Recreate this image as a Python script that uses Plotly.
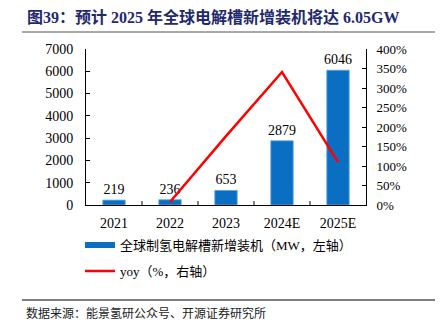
import plotly.graph_objects as go

years = ["2021", "2022", "2023", "2024E", "2025E"]
capacity = [219, 236, 653, 2879, 6046]
yoy_years = ["2022", "2023", "2024E", "2025E"]
yoy = [7.8, 176.7, 340.9, 110.0]
bar_name = "全球制氢电解槽新增装机（MW，左轴）"
line_name = "yoy（%，右轴）"

blue = "#0a6fc2"
red = "#ff0000"
serif = "Liberation Serif, Times New Roman, Noto Sans CJK SC"
cjk = "Liberation Serif, Noto Sans CJK SC"

L, R, T, B = 86, 366, 49, 205
W, H = R - L, B - T


def px(x):
    return (x - L) / W


def py(y):
    return (B - y) / H


fig = go.Figure()
fig.add_trace(go.Bar(x=years, y=capacity, marker=dict(color=blue, line=dict(color="#5fa3dc", width=0.8)),
                     width=0.4,
                     text=[str(v) for v in capacity], textposition="outside",
                     constraintext="none",
                     textfont=dict(family=serif, size=14, color="#000"),
                     cliponaxis=False, name=bar_name, yaxis="y"))
fig.add_trace(go.Scatter(x=yoy_years, y=yoy, mode="lines", name=line_name,
                         line=dict(color=red, width=2.5), yaxis="y2"))

fig.update_layout(
    width=443, height=335,
    margin=dict(l=L, r=443 - R, t=T, b=335 - B),
    paper_bgcolor="white", plot_bgcolor="white",
    font=dict(family=serif, size=14, color="#000"),
    showlegend=False,
    xaxis=dict(type="category", range=[-0.5, 4.5], showline=True, linecolor="#000", linewidth=1,
               ticks="", ticklabelstandoff=5,
               tickfont=dict(family=serif, size=14), showgrid=False),
    yaxis=dict(range=[0, 7000], dtick=1000, showline=True, linecolor="#000",
               ticks="inside", ticklen=4, tickcolor="#000", showgrid=False,
               ticklabelstandoff=9,
               zeroline=False, tickfont=dict(family=serif, size=14)),
    yaxis2=dict(range=[0, 400], dtick=50, overlaying="y", side="right",
                showline=True, linecolor="#000", ticks="inside", ticklen=4,
                tickcolor="#000", ticksuffix="%", showgrid=False, zeroline=False,
                ticklabelstandoff=7,
                tickfont=dict(family=serif, size=13)),
)

for i in range(1, len(years)):
    fig.add_shape(type="line", xref="x", yref="paper", x0=i - 0.5, x1=i - 0.5,
                  y0=0, y1=0.025, line=dict(color="#000", width=1))

# manual legend
fig.add_shape(type="line", xref="paper", yref="paper", x0=px(85), x1=px(115),
              y0=py(245), y1=py(245), line=dict(color=blue, width=6))
fig.add_annotation(text=bar_name, xref="paper", yref="paper", x=px(118), y=py(245),
                   xanchor="left", yanchor="middle", showarrow=False,
                   font=dict(family=cjk, size=13, color="#000"))
fig.add_shape(type="line", xref="paper", yref="paper", x0=px(85), x1=px(115),
              y0=py(271), y1=py(271), line=dict(color=red, width=2.5))
fig.add_annotation(text=line_name, xref="paper", yref="paper", x=px(118), y=py(271),
                   xanchor="left", yanchor="middle", showarrow=False,
                   font=dict(family=cjk, size=13, color="#000"))

fig.add_annotation(text="<b>图39：预计 2025 年全球电解槽新增装机将达 6.05GW</b>",
                   xref="paper", yref="paper", x=px(25), y=py(17),
                   xanchor="left", yanchor="middle", showarrow=False,
                   font=dict(family=cjk, size=16, color="#1f2a6e"))
fig.add_shape(type="line", xref="paper", yref="paper", x0=px(22), x1=px(435),
              y0=py(32), y1=py(32), line=dict(color="#8c8c8c", width=1.5))
fig.add_shape(type="line", xref="paper", yref="paper", x0=px(22), x1=px(435),
              y0=py(300), y1=py(300), line=dict(color="#000", width=1))
fig.add_annotation(text="数据来源：能景氢研公众号、开源证券研究所",
                   xref="paper", yref="paper", x=px(24), y=py(313),
                   xanchor="left", yanchor="middle", showarrow=False,
                   font=dict(family=cjk, size=12, color="#222"))

fig.write_html("out.html")
